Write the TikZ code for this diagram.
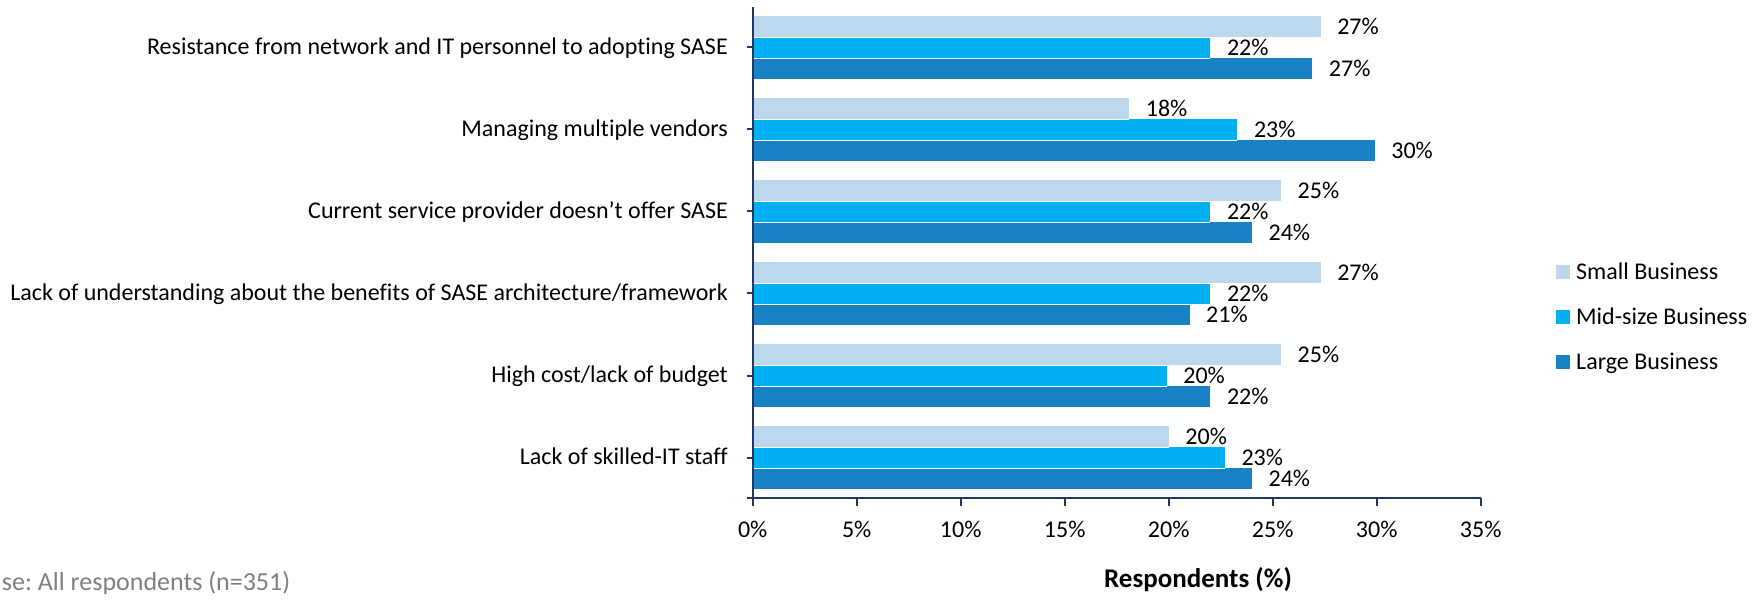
\documentclass[tikz,border=0pt]{standalone}
\usepackage{fontspec}
\setmainfont{Carlito}[Ligatures=NoCommon]
\frenchspacing
\definecolor{smallc}{HTML}{BDD7EE}
\definecolor{midc}{HTML}{00B0F0}
\definecolor{largec}{HTML}{1782C5}
\definecolor{axisc}{HTML}{1F3864}
\definecolor{basec}{HTML}{7F7F7F}
\begin{document}
\begin{tikzpicture}[x=1pt,y=-1pt,
  txt/.style={font=\fontsize{24}{28}\selectfont, inner sep=0pt, text=black},
  catlbl/.style={txt, anchor=base east},
  vallbl/.style={txt, anchor=base west},
  ticklbl/.style={txt, anchor=base},
  axisline/.style={draw=axisc, line width=2pt},
  legsq/.style={minimum size=14pt, inner sep=0pt, draw=none}]
\useasboundingbox (0,0) rectangle (1763,601);

% bars
\foreach \i/\a/\b/\c/\la/\lb/\lc in {0/27.3/22.0/26.9/27/22/27,
  1/18.1/23.3/29.9/18/23/30,
  2/25.4/22.0/24.0/25/22/24,
  3/27.3/22.0/21.0/27/22/21,
  4/25.4/19.9/22.0/25/20/22,
  5/20.0/22.7/24.0/20/23/24}{
  \pgfmathsetmacro\cy{47.5+82*\i}
  \pgfmathsetmacro\xa{752.7+20.8*\a}
  \pgfmathsetmacro\xb{752.7+20.8*\b}
  \pgfmathsetmacro\xc{752.7+20.8*\c}
  \fill[smallc] (752.7,\cy-31.5) rectangle (\xa,\cy-10.5);
  \fill[midc] (752.7,\cy-10.5) rectangle (\xb,\cy+10.5);
  \fill[largec] (752.7,\cy+10.5) rectangle (\xc,\cy+31.5);
  \draw[white, line width=0.5pt] (752.7,\cy-10.5) -- (\xa,\cy-10.5);
  \draw[white, line width=0.5pt] (752.7,\cy+10.5) -- (\xb,\cy+10.5);
  \node[vallbl] (va\i) at (\xa+16.5,\cy-21+8) {\la\%};
  \node[vallbl] (vb\i) at (\xb+16.5,\cy+8) {\lb\%};
  \node[vallbl] (vc\i) at (\xc+16.5,\cy+21+8) {\lc\%};
  \draw[axisline] (746.7,\cy) -- (752.7,\cy);
}

% axes
\coordinate (otop) at (752.7,7);
\coordinate (orig) at (752.7,498);
\coordinate (xl) at (747,498);
\coordinate (xr) at (1480.7,498);
\draw[axisline] (otop) -- (orig);
\draw[axisline] (xl) -- (xr);
\foreach \k in {0,...,7}{
  \pgfmathsetmacro\tx{752.7+104*\k}
  \pgfmathtruncatemacro\tv{5*\k}
  \draw[axisline] (\tx,498) -- (\tx,506);
  \node[ticklbl] (t\k) at (\tx,537) {\tv\%};
}

% category labels
\node[catlbl] (c0) at (728,47.5+7) {Resistance from network and IT personnel to adopting SASE};
\node[catlbl] (c1) at (728,129.5+7) {Managing multiple vendors};
\node[catlbl] (c2) at (728,211.5+7) {Current service provider doesn’t offer SASE};
\node[catlbl] (c3) at (728,293.5+7) {Lack of understanding about the benefits of SASE architecture/framework};
\node[catlbl] (c4) at (728,375.5+7) {High cost/lack of budget};
\node[catlbl] (c5) at (728,457.5+7) {Lack of skilled-IT staff};

% legend
\node[legsq, fill=smallc] (ls) at (1563,272) {};
\node[legsq, fill=midc] (lm) at (1563,317) {};
\node[legsq, fill=largec] (ll) at (1563,362) {};
\node[txt, anchor=base west] (lst) at (1576,279.5) {Small Business};
\node[txt, anchor=base west] (lmt) at (1576,324.5) {Mid-size Business};
\node[txt, anchor=base west] (llt) at (1576,369.5) {Large Business};

% titles
\node[txt, anchor=base, font=\fontsize{27}{30}\selectfont\bfseries] (xtitle) at (1198,587) {Respondents (\%)};
\node[txt, anchor=base west, text=basec, font=\fontsize{26}{30}\selectfont] (base) at (1.7,590) {se: All respondents (n=351)};
\end{tikzpicture}
\end{document}
